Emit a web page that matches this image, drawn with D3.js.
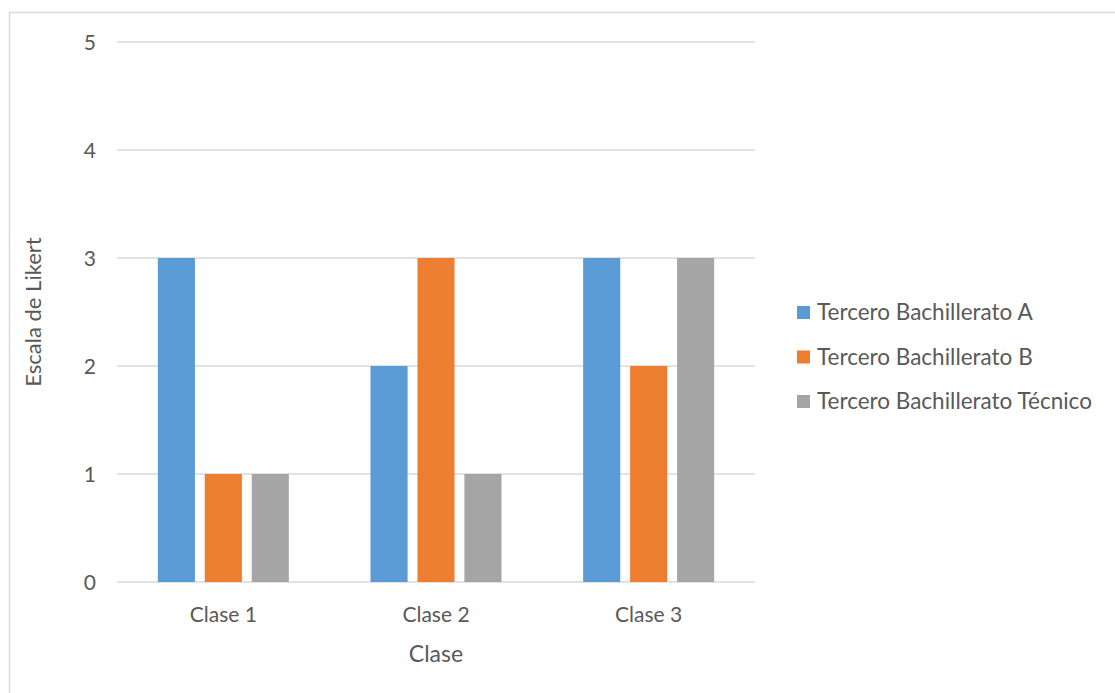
<!DOCTYPE html>
<html>
<head>
<meta charset="utf-8">
<script src="https://cdn.jsdelivr.net/npm/d3@7"></script>
<style>
  body { margin: 0; background: #fff; }
  svg text { font-family: Lato, "Open Sans", sans-serif; fill: #595959; }
</style>
</head>
<body>
<svg id="chart" width="1115" height="693"></svg>
<script>
// chart values
const categories = ["Clase 1", "Clase 2", "Clase 3"];
const seriesNames = ["Tercero Bachillerato A", "Tercero Bachillerato B", "Tercero Bachillerato Técnico"];
const serieA = [3, 2, 3];
const serieB = [1, 3, 2];
const serieTecnico = [1, 1, 3];
const yTicks = [0, 1, 2, 3, 4, 5];
const colors = ["#5B9BD5", "#ED7D31", "#A5A5A5"];

let svg = d3.select("#chart");
let plot = {left: 117, right: 755, top: 42, bottom: 582};

// outer frame
svg.append("rect")
    .attr("x", 9.5).attr("y", 12.5)
    .attr("width", 1200).attr("height", 800)
    .attr("fill", "none")
    .attr("stroke", "#d9d9d9")
    .attr("stroke-width", 1.5);

let x0 = d3.scaleBand().domain(categories)
    .range([plot.left, plot.right])
    .paddingInner(0.384).paddingOuter(0.192);
let x1 = d3.scaleBand().domain(seriesNames)
    .range([0, x0.bandwidth()])
    .paddingInner(0.21);
let y = d3.scaleLinear().domain([0, 5]).range([plot.bottom, plot.top]);

// grid lines
svg.append("g").selectAll("line").data(yTicks).join("line")
    .attr("x1", plot.left).attr("x2", plot.right)
    .attr("y1", d => y(d)).attr("y2", d => y(d))
    .attr("stroke", "#d9d9d9").attr("stroke-width", 1.5);

// y tick labels
svg.append("g").selectAll("text").data(yTicks).join("text")
    .attr("x", 96).attr("y", d => y(d))
    .attr("dy", "0.36em")
    .attr("text-anchor", "end")
    .attr("font-size", 21)
    .text(d => d);

let series = [serieA, serieB, serieTecnico];
let rows = [];
categories.forEach(function(c, i){
    seriesNames.forEach(function(s, j){
        rows.push({cat: c, name: s, value: series[j][i], color: colors[j]});
    });
});

svg.append("g").selectAll("rect").data(rows).join("rect")
    .attr("x", d => x0(d.cat) + x1(d.name))
    .attr("y", d => y(d.value))
    .attr("width", x1.bandwidth())
    .attr("height", d => y(0) - y(d.value))
    .attr("fill", d => d.color);

// category labels
svg.append("g").selectAll("text").data(categories).join("text")
    .attr("x", d => x0(d) + x0.bandwidth() / 2)
    .attr("y", 614)
    .attr("dy", "0.36em")
    .attr("text-anchor", "middle")
    .attr("font-size", 21)
    .text(d => d);

// axis titles
svg.append("text")
    .attr("x", (plot.left + plot.right) / 2).attr("y", 654)
    .attr("dy", "0.36em")
    .attr("text-anchor", "middle")
    .attr("font-size", 23)
    .text("Clase");

svg.append("text")
    .attr("transform", "translate(33," + ((plot.top + plot.bottom) / 2) + ") rotate(-90)")
    .attr("dy", "0.36em")
    .attr("text-anchor", "middle")
    .attr("font-size", 22)
    .text("Escala de Likert");

// legend
let legend = svg.append("g").selectAll("g").data(seriesNames).join("g")
    .attr("transform", (d, i) => "translate(797," + (312 + i * 44.5) + ")");
legend.append("rect")
    .attr("x", 0).attr("y", -6)
    .attr("width", 13).attr("height", 13)
    .attr("fill", (d, i) => colors[i]);
legend.append("text")
    .attr("x", 20).attr("y", 0)
    .attr("dy", "0.36em")
    .attr("font-size", 22.5)
    .text(d => d);
</script>
</body>
</html>
